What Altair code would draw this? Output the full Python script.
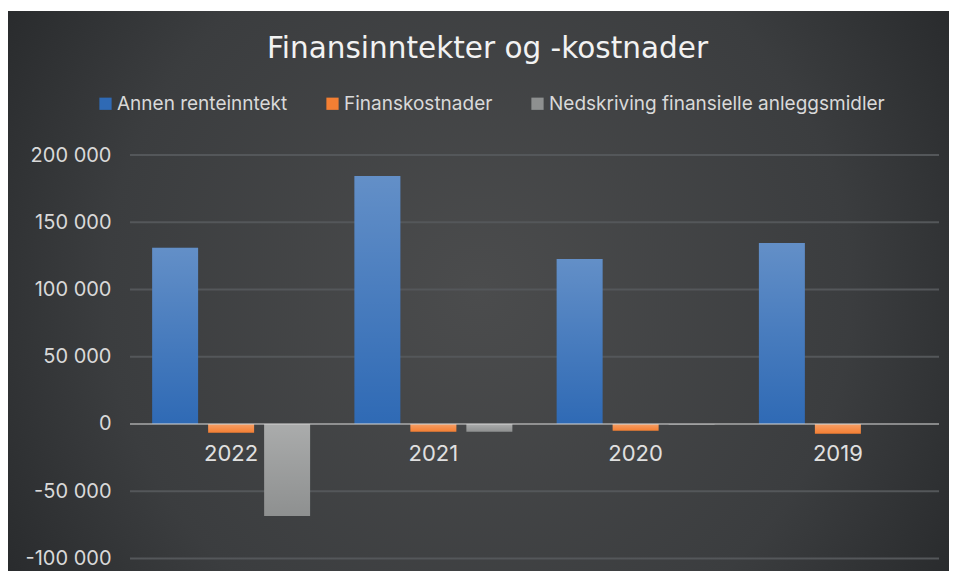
import altair as alt
import pandas as pd

years = ["2022", "2021", "2020", "2019"]
series = ["Annen renteinntekt", "Finanskostnader", "Nedskriving finansielle anleggsmidler"]
renteinntekt = [131000, 184400, 122700, 134600]
finanskostnader = [-6500, -5700, -5000, -7200]
nedskriving = [-68400, -5800, -300, 0]
colors = ["#2f6ab5", "#f47f33", "#8e9090"]
y_ticks = [-100000, -50000, 0, 50000, 100000, 150000, 200000]

rows = []
for i, y in enumerate(years):
    for s, vals in zip(series, [renteinntekt, finanskostnader, nedskriving]):
        rows.append({"year": y, "series": s, "value": vals[i]})
df = pd.DataFrame(rows)

W, H = 809, 416
PAD = {"left": 122, "top": 147, "right": 10, "bottom": 0}

y_scale = alt.Scale(domain=[-109300, 200000], nice=False, zero=False)
y_axis = alt.Axis(
    values=y_ticks, grid=False, ticks=False, domain=False, title=None,
    labelExpr="replace(replace(format(datum.value, ',.0f'), /,/g, ' '), '−', '-')",
    labelFont="Inter", labelFontSize=20, labelColor="#d9d9d9", labelPadding=19, zindex=1,
)
x_scale = alt.Scale(domain=years, paddingInner=0.219, paddingOuter=0.1095)

bg = alt.Chart(pd.DataFrame({"a": [0]})).mark_rect(
    fill=alt.RadialGradient(
        gradient="radial", x1=0.5, y1=0.5, r1=0, x2=0.5, y2=0.5, r2=0.72,
        stops=[alt.GradientStop(color="#4b4c4d", offset=0),
               alt.GradientStop(color="#3b3d3f", offset=0.55),
               alt.GradientStop(color="#1c1e20", offset=1)],
    )
).encode(
    x=alt.value(-PAD["left"]), x2=alt.value(W + PAD["right"]),
    y=alt.value(3 - PAD["top"]), y2=alt.value(H),
)

grid = alt.Chart(pd.DataFrame({"v": [t for t in y_ticks if t != 0]})).mark_rule(
    color="#54575a", strokeWidth=2
).encode(y=alt.Y("v:Q", scale=y_scale, axis=y_axis))

bars = alt.Chart(df).mark_bar().encode(
    x=alt.X("year:N", scale=x_scale, axis=None, sort=years),
    xOffset=alt.XOffset("series:N", sort=series,
                        scale=alt.Scale(domain=series, paddingInner=0.179, paddingOuter=0)),
    y=alt.Y("value:Q", scale=y_scale, axis=y_axis),
    color=alt.Color("series:N", sort=series,
                    scale=alt.Scale(domain=series, range=colors),
                    legend=alt.Legend(
                        orient="none", legendX=-34, legendY=-61, direction="horizontal",
                        title=None, symbolType="square", symbolSize=150, symbolStrokeWidth=0,
                        labelFont="Inter", labelFontSize=19, labelColor="#d9d9d9",
                        labelLimit=600, labelOffset=2, columnPadding=35)),
)

shade = alt.Chart(df).mark_bar(
    fill=alt.LinearGradient(
        gradient="linear", x1=0, y1=0, x2=0, y2=1,
        stops=[alt.GradientStop(color="rgba(255,255,255,0.25)", offset=0),
               alt.GradientStop(color="rgba(255,255,255,0.12)", offset=0.5),
               alt.GradientStop(color="rgba(255,255,255,0.0)", offset=1)],
    )
).encode(
    x=alt.X("year:N", scale=x_scale, axis=None, sort=years),
    xOffset=alt.XOffset("series:N", sort=series,
                        scale=alt.Scale(domain=series, paddingInner=0.179, paddingOuter=0)),
    y=alt.Y("value:Q", scale=y_scale, axis=y_axis),
)

zero = alt.Chart(pd.DataFrame({"v": [0]})).mark_rule(
    color="#d0d0d0", opacity=0.55, strokeWidth=2
).encode(y=alt.Y("v:Q", scale=y_scale, axis=y_axis))

labels = alt.Chart(pd.DataFrame({"year": years, "v": [0] * len(years)})).mark_text(
    dy=37, baseline="alphabetic", align="center", font="Inter", fontSize=22, color="#e0e0e0"
).encode(
    x=alt.X("year:N", scale=x_scale, axis=None, sort=years),
    y=alt.Y("v:Q", scale=y_scale, axis=y_axis),
    text="year:N",
)

chart = alt.layer(bg, grid, bars, shade, zero, labels).properties(
    width=W, height=H, padding=PAD,
    autosize=alt.AutoSizeParams(type="none"),
    background="white",
    title=alt.TitleParams(
        "Finansinntekter og -kostnader", font="DejaVu Sans", fontSize=29.5,
        fontWeight="normal", color="#f2f2f2", anchor="middle", dx=-47, offset=-76,
        baseline="alphabetic",
    ),
).configure_view(stroke=None)

chart.save("out.html", embed_options={"renderer": "svg", "actions": False})
